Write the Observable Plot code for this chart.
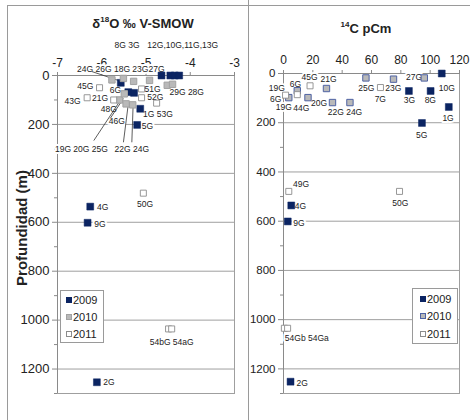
<!DOCTYPE html>
<html><head><meta charset="utf-8">
<script src="https://cdn.jsdelivr.net/npm/d3@7"></script>
<script src="https://cdn.jsdelivr.net/npm/@observablehq/plot@0.6"></script>
<style>
body{margin:0;background:#fff;font-family:"Liberation Sans",Arial,sans-serif;color:#222;}
#wrap{position:relative;width:470px;height:420px;overflow:hidden;background:#fff;}
.abs{position:absolute;}
.line{position:absolute;background:#9a9a9a;}
.title{position:absolute;font-weight:bold;font-size:13px;white-space:nowrap;transform:translate(-50%,-50%);}
.title sup{font-size:8px;}
.ytitle{position:absolute;font-weight:bold;font-size:15px;white-space:nowrap;transform:translate(-50%,-50%) rotate(-90deg);}
.legend{position:absolute;border:1px solid #9a9a9a;background:#fff;box-sizing:border-box;font-size:11px;}
.legend .row{position:absolute;left:0;height:14px;line-height:14px;white-space:nowrap;}
.legend .sw{position:absolute;width:6px;height:6px;box-sizing:border-box;top:4px;}
.legend .tx{position:absolute;top:0;}
</style></head><body><div id="wrap"></div>
<script>
// ---------- data ----------
const years = ["2009", "2010", "2011"];
const depthTicks = [0, 200, 400, 600, 800, 1000, 1200];
const depthMinorTicks = [100, 300, 500, 700, 900, 1100, 1300];
const gridDepths = [200, 400, 600, 800, 1000, 1200];
const o18Ticks = [-7, -6, -5, -4, -3];
const c14Ticks = [0, 20, 40, 60, 80, 100, 120];

// δ18O panel
const o18Value = [-4.65, -4.45, -4.35, -4.25, -5.57, -5.40, -5.27, -5.13, -5.20, -6.26, -6.32, -6.11,
                  -5.77, -5.51, -5.28, -4.92, -4.52, -4.40, -5.60, -5.49, -5.45, -5.30,
                  -6.05, -6.33, -5.73, -5.10, -5.10, -4.76, -5.06, -4.49, -4.42];
const o18Depth = [0, 0, 0, 0, 30, 68, 71, 136, 202, 536, 602, 1254,
                  18, 12, 24, 20, 40, 36, 100, 75, 116, 120,
                  50, 91, 100, 55, 91, 113, 481, 1036, 1036];
const o18Year = ["2009","2009","2009","2009","2009","2009","2009","2009","2009","2009","2009","2009",
                 "2010","2010","2010","2010","2010","2010","2010","2010","2010","2010",
                 "2011","2011","2011","2011","2011","2011","2011","2011","2011"];
const o18LabelText = ["8G 3G", "12G,10G,11G,13G", "24G 26G 18G 23G27G", "45G", "43G", "21G", "6G", "51G", "52G",
                      "29G 28G", "1G 53G", "48G", "46G", "5G", "19G 20G 25G", "22G 24G", "4G", "9G", "50G", "54bG 54aG", "2G"];
const o18LabelValue = [-5.43, -4.17, -5.57, -6.37, -6.66, -6.04, -5.69, -4.85, -4.79,
                       -4.08, -4.73, -5.84, -5.66, -4.97, -6.46, -5.32, -5.98, -6.04, -5.02, -4.42, -5.84];
const o18LabelDepth = [-123, -123, -27, 44, 105, 95, 61, 57, 89,
                       68, 157, 140, 188, 208, 300, 300, 538, 609, 527, 1090, 1256];
// leader lines (from label to point)
const o18LeaderFromValue = [-6.22, -6.18, -5.81, -5.51, -5.32];
const o18LeaderFromDepth = [-16, 266, 176, 273, 273];
const o18LeaderToValue = [-5.58, -5.58, -5.51, -5.40, -5.29];
const o18LeaderToDepth = [23, 102, 94, 116, 116];

// 14C panel
const c14Value = [107.9, 85.5, 100.3, 112.7, 94.4, 5.3, 2.9, 4.8,
                  3.6, 9.4, 16.7, 29.3, 33.4, 45.3, 56.2, 75.0, 96.0,
                  1.4, 9.4, 18.1, 66.1, 3.6, 79.1, 0.6, 2.8];
const c14Depth = [0, 71, 71, 136, 201, 536, 601, 1252,
                  98, 70, 98, 61, 118, 118, 18, 23, 18,
                  88, 86, 50, 57, 479, 479, 1035, 1035];
const c14Year = ["2009","2009","2009","2009","2009","2009","2009","2009",
                 "2010","2010","2010","2010","2010","2010","2010","2010","2010",
                 "2011","2011","2011","2011","2011","2011","2011","2011"];
const c14LabelText = ["19G", "6G", "19G", "6G", "44G", "45G", "21G", "20G", "22G", "24G", "25G", "7G", "23G", "27G",
                      "10G", "3G", "8G", "1G", "5G", "49G", "4G", "9G", "50G", "54Gb 54Ga", "2G"];
const c14LabelValue = [-4.6, -5.3, 0.2, 8.2, 12.2, 17.7, 30.7, 24.2, 35.7, 48.2, 56.4, 66.0, 74.9, 89.0,
                       111.3, 85.9, 100.1, 112.2, 94.2, 11.9, 11.5, 10.5, 79.7, 15.9, 12.8];
const c14LabelDepth = [59, 106, 138, 45, 140, 16, 23, 120, 159, 159, 61, 106, 61, 16,
                       61, 109, 109, 181, 252, 452, 539, 608, 527, 1076, 1259];

// ---------- styles ----------
const navy = "#0b2462";
const font = "'Liberation Sans', Arial, sans-serif";
const seriesStyle = {
  left: {
    "2009": {fill: navy, stroke: navy, r: 3.9, sw: 0.5},
    "2010": {fill: "#b9b9b9", stroke: "#a2a2a2", r: 3.6, sw: 1},
    "2011": {fill: "#ffffff", stroke: "#8c8c8c", r: 3.4, sw: 0.9}
  },
  right: {
    "2009": {fill: navy, stroke: navy, r: 3.9, sw: 0.5},
    "2010": {fill: "#b9b9b9", stroke: "#4f63a3", r: 3.6, sw: 1},
    "2011": {fill: "#ffffff", stroke: "#8c8c8c", r: 3.4, sw: 0.9}
  }
};

function pointMarks(vals, deps, yrs, styles) {
  const pts = vals.map((v, i) => ({v, d: deps[i], year: yrs[i]}));
  return years.map(y => {
    const s = styles[y];
    return Plot.dot(pts.filter(p => p.year === y), {
      x: "v", y: "d", symbol: "square", r: s.r, fill: s.fill, stroke: s.stroke, strokeWidth: s.sw
    });
  });
}
function labelMark(texts, vals, deps) {
  const rows = texts.map((t, i) => ({t, v: vals[i], d: deps[i]}));
  return Plot.text(rows, {x: "v", y: "d", text: "t", fontSize: 8.5, fill: "#222",
    stroke: "white", strokeWidth: 4, paintOrder: "stroke", fontFamily: font});
}

const wrap = document.getElementById("wrap");

// ---------- left plot ----------
const leaders = o18LeaderFromValue.map((v, i) => ({x1: v, y1: o18LeaderFromDepth[i], x2: o18LeaderToValue[i], y2: o18LeaderToDepth[i]}));
const left = Plot.plot({
  width: 245, height: 420,
  marginLeft: 57, marginRight: 11, marginTop: 75, marginBottom: 27,
  x: {domain: [-7, -3]},
  y: {domain: [0, 1300], reverse: true},
  style: {background: "transparent", fontFamily: font, overflow: "visible", color: "#222"},
  marks: [
    Plot.ruleY(gridDepths, {stroke: "#9f9f9f"}),
    Plot.frame({stroke: "#9f9f9f"}),
    Plot.ruleY([0], {stroke: "#8a8a8a"}),
    Plot.ruleX([-7], {stroke: "#8a8a8a"}),
    Plot.axisX({anchor: "top", ticks: o18Ticks, tickSize: 4, tickPadding: 5, tickFormat: d => String(d), fontSize: 12, label: null, stroke: "#8a8a8a"}),
    Plot.axisY({anchor: "left", ticks: depthTicks, tickSize: 5, tickPadding: 3, tickFormat: d => String(d), fontSize: 13, label: null, stroke: "#8a8a8a"}),
    Plot.axisY({anchor: "left", ticks: depthMinorTicks, tickSize: 3, tickFormat: () => "", label: null, stroke: "#8a8a8a"}),
    labelMark(o18LabelText, o18LabelValue, o18LabelDepth),
    Plot.link(leaders, {x1: "x1", y1: "y1", x2: "x2", y2: "y2", stroke: "#333", strokeWidth: 0.8}),
    ...pointMarks(o18Value, o18Depth, o18Year, seriesStyle.left)
  ]
});
left.style.position = "absolute"; left.style.left = "0px"; left.style.top = "0px";
wrap.appendChild(left);

// ---------- right plot ----------
const right = Plot.plot({
  width: 221, height: 420,
  marginLeft: 34, marginRight: 11, marginTop: 73, marginBottom: 27,
  x: {domain: [0, 120]},
  y: {domain: [0, 1300], reverse: true},
  style: {background: "transparent", fontFamily: font, overflow: "visible", color: "#222"},
  marks: [
    Plot.ruleY(gridDepths, {stroke: "#9f9f9f"}),
    Plot.frame({stroke: "#9f9f9f"}),
    Plot.ruleY([0], {stroke: "#8a8a8a"}),
    Plot.ruleX([0], {stroke: "#8a8a8a"}),
    Plot.axisX({anchor: "top", ticks: c14Ticks, tickSize: 4, tickPadding: 6, tickFormat: d => String(d), fontSize: 12, label: null, stroke: "#8a8a8a"}),
    Plot.axisY({anchor: "left", ticks: depthTicks, tickSize: 5, tickPadding: 3, tickFormat: d => String(d), fontSize: 11.5, label: null, stroke: "#8a8a8a"}),
    Plot.axisY({anchor: "left", ticks: depthMinorTicks, tickSize: 3, tickFormat: () => "", label: null, stroke: "#8a8a8a"}),
    labelMark(c14LabelText, c14LabelValue, c14LabelDepth),
    ...pointMarks(c14Value, c14Depth, c14Year, seriesStyle.right)
  ]
});
right.style.position = "absolute"; right.style.left = "249px"; right.style.top = "0px";
wrap.appendChild(right);

// ---------- frame lines, titles, legends ----------
function add(html) { wrap.insertAdjacentHTML("beforeend", html); }
add('<div class="line" style="left:7px;top:5px;width:1px;height:415px"></div>');
add('<div class="line" style="left:7px;top:5px;width:463px;height:1px"></div>');
add('<div class="line" style="left:248px;top:0px;width:1px;height:420px"></div>');
add('<div class="title" style="left:143px;top:23px">δ<sup>18</sup>O ‰ V-SMOW</div>');
add('<div class="title" style="left:366px;top:28px"><sup>14</sup>C pCm</div>');
add('<div class="ytitle" style="left:21px;top:228px">Profundidad (m)</div>');

function legend(x, y, w, h, sx, tx, rows, styles) {
  let s = `<div class="legend" style="left:${x}px;top:${y}px;width:${w}px;height:${h}px">`;
  years.forEach((yr, i) => {
    const st = styles[yr];
    s += `<div class="row" style="top:${rows[i]}px"><div class="sw" style="left:${sx}px;background:${st.fill};border:1px solid ${st.stroke}"></div><div class="tx" style="left:${tx}px">${yr}</div></div>`;
  });
  return s + '</div>';
}
add(legend(60, 290, 44, 53, 5, 12, [2, 19, 36], seriesStyle.left));
add(legend(412, 288, 46, 56, 7, 14, [3, 20, 38], seriesStyle.right));
</script></body></html>
